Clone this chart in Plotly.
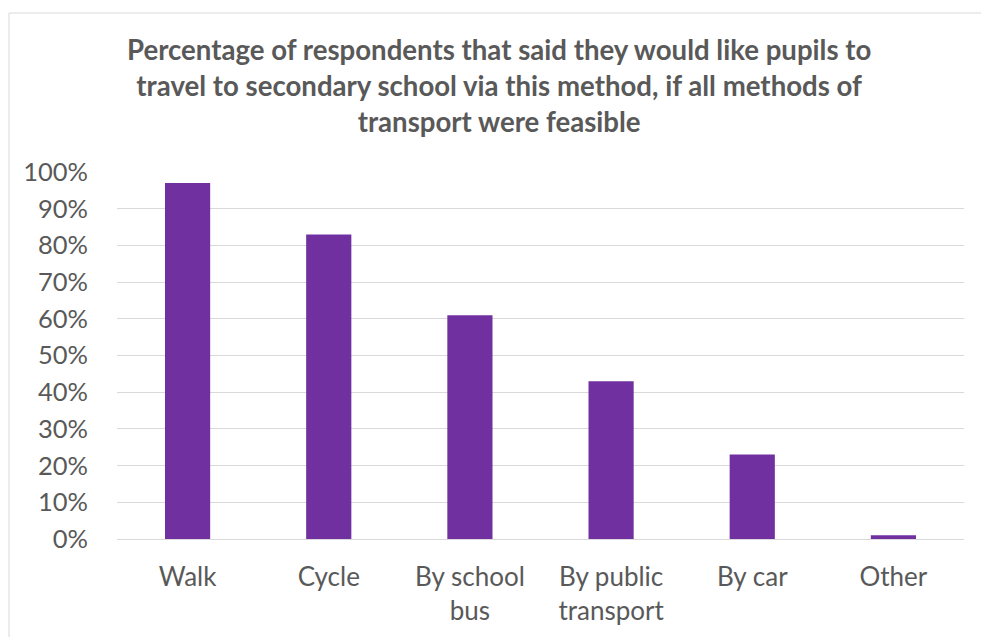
import plotly.graph_objects as go

categories = ["Walk", "Cycle", "By school<br>bus", "By public<br>transport", "By car", "Other"]
values = [0.97, 0.83, 0.61, 0.43, 0.23, 0.01]
tick_vals = [0, 0.1, 0.2, 0.3, 0.4, 0.5, 0.6, 0.7, 0.8, 0.9, 1.0]
title_text = ("Percentage of respondents that said they would like pupils to<br>"
              "travel to secondary school via this method, if all methods of<br>"
              "transport were feasible")

W, H = 981, 637
L, R, T, B = 117, 964, 172, 539
pw, ph = R - L, B - T

def px_x(x):
    return (x - L) / pw

def px_y(y):
    return (B - y) / ph

fig = go.Figure(go.Bar(
    x=categories, y=values,
    marker=dict(color="#7030A0", line=dict(width=0)),
    width=0.32,
))

fig.update_layout(
    width=W, height=H,
    margin=dict(l=L, r=W - R, t=T, b=H - B),
    paper_bgcolor="white", plot_bgcolor="white",
    font=dict(family="Lato", color="#595959", size=25),
    showlegend=False,
    xaxis=dict(showgrid=False, showline=False, ticks="",
               tickfont=dict(size=26, color="#595959"), ticklabelstandoff=20),
    yaxis=dict(range=[0, 1.0], tickvals=tick_vals, tickformat=".0%",
               showgrid=True, gridcolor="#D9D9D9", gridwidth=1,
               zeroline=True, zerolinecolor="#D9D9D9", zerolinewidth=1,
               showline=False, ticks="", ticklabelstandoff=28,
               tickfont=dict(size=25.5, color="#595959")),
    annotations=[dict(
        text="<b>" + title_text + "</b>",
        xref="paper", yref="paper",
        x=px_x(499), y=px_y(31), xanchor="center", yanchor="top",
        showarrow=False, align="center",
        font=dict(family="Lato", size=27.6, color="#595959"),
    )],
    shapes=[dict(
        type="rect", xref="paper", yref="paper",
        x0=px_x(9), x1=px_x(1000), y0=px_y(660), y1=px_y(13),
        line=dict(color="#D9D9D9", width=1), fillcolor="rgba(0,0,0,0)",
        layer="below",
    )],
)

fig.write_html("out.html")
